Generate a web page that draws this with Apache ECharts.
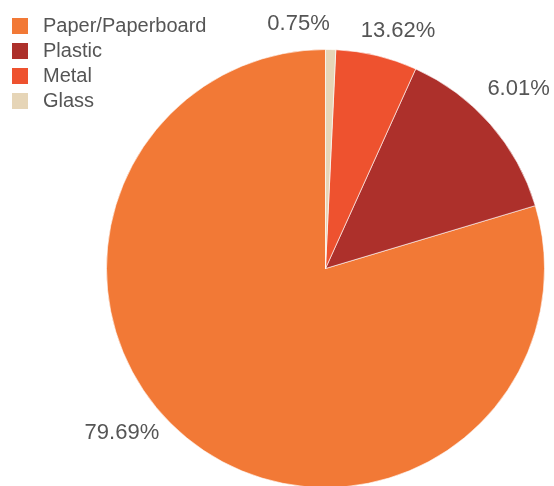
<!DOCTYPE html>
<html>
<head>
<meta charset="utf-8">
<script src="https://cdn.jsdelivr.net/npm/echarts@6/dist/echarts.min.js"></script>
<style>
  html, body { margin: 0; padding: 0; background: #fff; }
  #chart { width: 554px; height: 486px; }
</style>
</head>
<body>
<div id="chart"></div>
<script>
// Packaging material shares (%)
const categories = ['Paper/Paperboard', 'Plastic', 'Metal', 'Glass'];
const shares = [79.69, 13.62, 6.01, 0.75];
const colors = ['#f27936', '#ad302b', '#ee522f', '#e6d5b7'];

// Where each percentage label sits: direction (degrees clockwise from 12 o'clock)
// and distance from the pie centre, in px.
const labelAngle = [231, 17, 47, -6.3];
const labelDist = [262, 248, 264, 246];

const CX = 325.5, CY = 268.5, R = 219;

const chart = echarts.init(document.getElementById('chart'), null, { renderer: 'canvas' });

chart.setOption({
  animation: false,
  legend: {
    orient: 'vertical',
    left: 7,
    top: 11,
    padding: 5,
    itemWidth: 16,
    itemHeight: 16,
    itemGap: 5,
    icon: 'rect',
    itemStyle: { borderWidth: 0 },
    textStyle: { fontFamily: 'Liberation Sans, Arial, sans-serif', fontSize: 20, color: '#555', padding: [0, 0, 0, 10] },
    data: categories
  },
  series: [{
    type: 'pie',
    center: [CX, CY],
    radius: [0, R],
    startAngle: 90,
    clockwise: false,
    avoidLabelOverlap: false,
    data: categories.map((name, i) => ({ name, value: shares[i], itemStyle: { color: colors[i] } })),
    itemStyle: { borderColor: '#fff', borderWidth: 0.6 },
    label: {
      show: true,
      position: 'outside',
      formatter: p => shares[p.dataIndex].toFixed(2) + '%',
      fontFamily: 'Liberation Sans, Arial, sans-serif',
      fontSize: 22,
      color: '#555'
    },
    labelLine: { show: false },
    labelLayout: function (params) {
      const i = params.dataIndex;
      const a = labelAngle[i] * Math.PI / 180;
      return {
        x: CX + labelDist[i] * Math.sin(a),
        y: CY - labelDist[i] * Math.cos(a),
        align: 'center',
        verticalAlign: 'middle',
        hideOverlap: false,
        moveOverlap: null
      };
    },
    emphasis: { disabled: true }
  }]
});
</script>
</body>
</html>
